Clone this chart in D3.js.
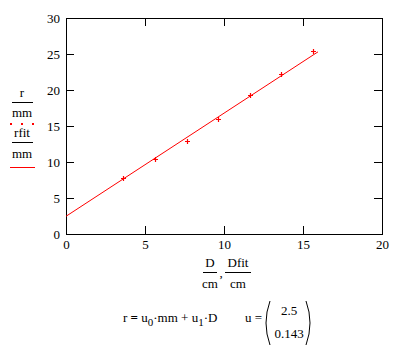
<!DOCTYPE html>
<html>
<head>
<meta charset="utf-8">
<script src="https://cdn.jsdelivr.net/npm/d3@7"></script>
</head>
<body style="margin:0">
<div id="chart-area"></div>
<script>
// measured points
const D = [3.63, 5.63, 7.68, 9.6, 11.66, 13.63, 15.65];
const r = [7.82, 10.37, 12.9, 15.97, 19.35, 22.18, 25.37];

// fit line  r = u0*mm + u1*D
const Dfit = [0, 15.95];
const rfit = [2.46, 25.3];

const u = ["2.5", "0.143"];

const xTicks = [0, 5, 10, 15, 20];
const yTicks = [0, 5, 10, 15, 20, 25, 30];

const serif = '"Liberation Serif"';

const margin = { left: 66, top: 18, right: 18, bottom: 111 };
const width = 400 - margin.left - margin.right;
const height = 345 - margin.top - margin.bottom;

const svg = d3.select("#chart-area").append("svg")
	.attr("width", 400)
	.attr("height", 345)
	.style("font-family", serif);

const g = svg.append("g")
	.attr("transform", `translate(${margin.left},${margin.top})`);

const x = d3.scaleLinear().domain([0, 20]).range([0, width]);
const y = d3.scaleLinear().domain([0, 30]).range([height, 0]);

const styleAxis = sel => {
	sel.attr("font-family", null).attr("font-size", null);
	sel.selectAll("path, line").attr("stroke", "#000").attr("shape-rendering", "crispEdges");
	sel.selectAll("text").attr("fill", "#000").style("font-family", serif).style("font-size", "13px");
};

g.append("g")
	.attr("transform", `translate(0,${height})`)
	.call(d3.axisBottom(x).tickValues(xTicks).tickSizeInner(-8).tickSizeOuter(0).tickPadding(6))
	.call(styleAxis);

g.append("g")
	.call(d3.axisTop(x).tickValues(xTicks).tickSizeInner(-8).tickSizeOuter(0).tickFormat(""))
	.call(styleAxis);

g.append("g")
	.call(d3.axisLeft(y).tickValues(yTicks).tickSizeInner(-8).tickSizeOuter(0).tickPadding(6))
	.call(styleAxis);

g.append("g")
	.attr("transform", `translate(${width},0)`)
	.call(d3.axisRight(y).tickValues(yTicks).tickSizeInner(-8).tickSizeOuter(0).tickFormat(""))
	.call(styleAxis);

// fit line
const line = d3.line().x(d => x(d[0])).y(d => y(d[1]));
g.append("path")
	.datum(d3.zip(Dfit, rfit))
	.attr("fill", "none")
	.attr("stroke", "#f00")
	.attr("stroke-width", 1)
	.attr("d", line);

// points as small crosses
g.selectAll(".pt")
	.data(d3.zip(D, r))
	.enter().append("path")
	.attr("class", "pt")
	.attr("fill", "none")
	.attr("stroke", "#f00")
	.attr("stroke-width", 1.2)
	.attr("d", d => {
		const cx = Math.round(x(d[0])) + 0.5, cy = Math.round(y(d[1])) + 0.5;
		return `M${cx - 2.5},${cy}H${cx + 2.5}M${cx},${cy - 2.5}V${cy + 2.5}`;
	});

const label = (sel, tx, ty, s, anchor) => sel.append("text")
	.attr("x", tx).attr("y", ty)
	.attr("text-anchor", anchor || "middle")
	.style("font-family", serif).style("font-size", "13px")
	.text(s);

const fracLine = (sel, x1, x2, yy, color) => sel.append("line")
	.attr("x1", x1).attr("x2", x2).attr("y1", yy).attr("y2", yy)
	.attr("stroke", color).attr("shape-rendering", "crispEdges");

// legend on the left
const leg = svg.append("g");
label(leg, 22, 97, "r");
fracLine(leg, 12, 33, 102.5, "#000");
label(leg, 22, 117, "mm");
leg.selectAll(".dot").data([11, 22, 33]).enter().append("rect")
	.attr("x", d => d - 1).attr("y", 123).attr("width", 2).attr("height", 2).attr("fill", "#f00");
label(leg, 22, 137, "rfit");
fracLine(leg, 12, 33, 142.5, "#000");
label(leg, 22, 158, "mm");
fracLine(leg, 10, 35, 167.5, "#f00");

// x label
const xl = svg.append("g");
label(xl, 210, 267, "D");
fracLine(xl, 203, 217, 272.5, "#000");
label(xl, 210, 288, "cm");
label(xl, 221, 277, ",");
label(xl, 238, 267, "Dfit");
fracLine(xl, 225, 251, 272.5, "#000");
label(xl, 238, 288, "cm");

// formula
const f = label(svg, 123, 322, "", "start");
f.append("tspan").text("r ");
f.append("tspan").attr("font-weight", "bold").text("=");
f.append("tspan").text(" u");
f.append("tspan").attr("dy", 4).style("font-size", "11px").text("0");
f.append("tspan").attr("dy", -4).text("\u00b7mm + u");
f.append("tspan").attr("dy", 4).style("font-size", "11px").text("1");
f.append("tspan").attr("dy", -4).text("\u00b7D");

label(svg, 245, 322, "u =", "start");
svg.append("path").attr("fill", "none").attr("stroke", "#000")
	.attr("d", "M270,301 Q262,323 270,345");
svg.append("path").attr("fill", "none").attr("stroke", "#000")
	.attr("d", "M306,301 Q314,323 306,345");
u.forEach((d, i) => label(svg, 289, 315 + i * 23, d));
</script>
</body>
</html>
